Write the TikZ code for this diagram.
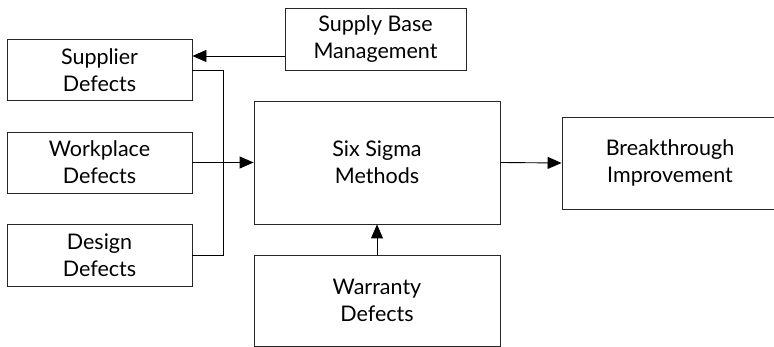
\documentclass[tikz,border=0pt]{standalone}
\usepackage{fontspec}
\setmainfont{Lato}
\usetikzlibrary{arrows.meta}
\tikzset{
  box/.style={draw=black!85,line width=0.9pt,align=center,inner sep=0pt,
    font=\fontsize{21.5}{27}\selectfont},
  arr/.style={line width=0.9pt,-{Triangle[length=14pt,width=12pt]}},
  link/.style={line width=0.9pt}
}
\begin{document}
\begin{tikzpicture}[x=1pt,y=-1pt]
  \useasboundingbox (0,0) rectangle (774,347);
  \node[box,minimum width=185pt,minimum height=61pt] (sup) at (99.5,70) {Supplier\\Defects};
  \node[box,minimum width=185pt,minimum height=61pt] (work) at (99.5,162.5) {Workplace\\Defects};
  \node[box,minimum width=185pt,minimum height=62pt] (des) at (99.5,255) {Design\\Defects};
  \node[box,minimum width=181pt,minimum height=62pt] (sbm) at (375.5,39) {Supply Base\\Management};
  \node[box,minimum width=246pt,minimum height=123pt] (six) at (377,162.5) {Six Sigma\\Methods};
  \node[box,minimum width=246pt,minimum height=91pt] (war) at (377,300.5) {Warranty\\Defects};
  \node[box,minimum width=216pt,minimum height=92pt] (brk) at (670,163) {Breakthrough\\Improvement};
  \coordinate (bus) at (223,162.5);
  % inputs
  \draw[arr] ([yshift=-17pt]sbm.west) -- ([yshift=-17pt]sbm.west -| sup.east);
  \draw[link] (sup.east) -| (bus);
  \draw[link] (des.east) -| (bus);
  \draw[arr] (work.east) -- (six.west);
  \draw[arr] (war.north) -- (six.south);
  % output
  \draw[arr] (six.east) -- (brk.west);
\end{tikzpicture}
\end{document}
